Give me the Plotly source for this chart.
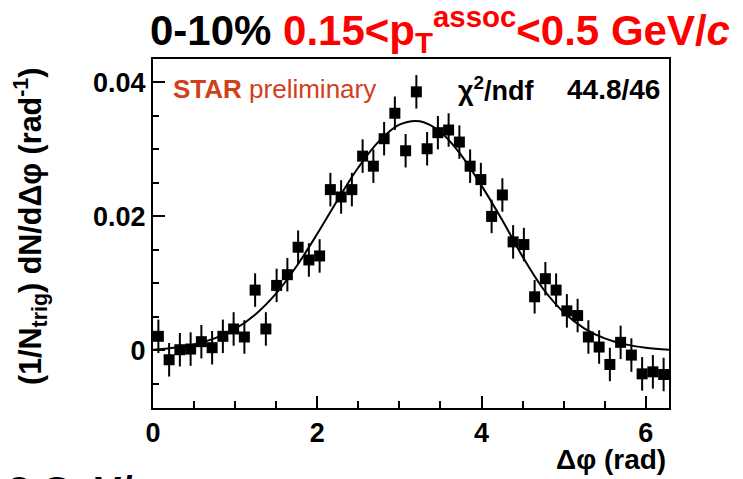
import plotly.graph_objects as go

# ---------------- data ----------------
dphi = [0.0654, 0.1963, 0.3272, 0.4581, 0.5890, 0.7199, 0.8508, 0.9817, 1.1126, 1.2435,
        1.3744, 1.5053, 1.6362, 1.7671, 1.8980, 2.0289, 2.1598, 2.2907, 2.4216, 2.5525,
        2.6834, 2.8143, 2.9452, 3.0761, 3.2070, 3.3379, 3.4688, 3.5997, 3.7306, 3.8615,
        3.9924, 4.1233, 4.2542, 4.3851, 4.5160, 4.6469, 4.7778, 4.9087, 5.0396, 5.1705,
        5.3014, 5.4323, 5.5632, 5.6941, 5.8250, 5.9559, 6.0868, 6.2177]

yield_vals = [0.0021, -0.0014, 0.0001, 0.0002, 0.0013, 0.0004, 0.0021, 0.0032, 0.0020, 0.0090,
              0.0032, 0.0097, 0.0113, 0.0154, 0.0135, 0.0141, 0.0240, 0.0229, 0.0240, 0.0290,
              0.0275, 0.0316, 0.0354, 0.0298, 0.0386, 0.0301, 0.0325, 0.0329, 0.0311, 0.0275,
              0.0255, 0.0200, 0.0232, 0.0162, 0.0158, 0.0080, 0.0107, 0.0090, 0.0059, 0.0052,
              0.0020, 0.0005, -0.0021, 0.0012, -0.0007, -0.0035, -0.0032, -0.0036]

yield_err = [0.0025, 0.0025, 0.0025, 0.0025, 0.0025, 0.0025, 0.0025, 0.0025, 0.0025, 0.0025,
             0.0025, 0.0025, 0.0025, 0.0025, 0.0025, 0.0025, 0.0025, 0.0025, 0.0025, 0.0025,
             0.0025, 0.0025, 0.0025, 0.0025, 0.0025, 0.0025, 0.0025, 0.0025, 0.0025, 0.0025,
             0.0025, 0.0025, 0.0025, 0.0025, 0.0025, 0.0025, 0.0025, 0.0025, 0.0025, 0.0025,
             0.0025, 0.0025, 0.0025, 0.0025, 0.0025, 0.0025, 0.0025, 0.0025]

fit_x = [0.0, 0.25, 0.5, 0.75, 1.0, 1.25, 1.5, 1.75, 2.0, 2.25, 2.5, 2.75, 3.0, 3.25,
         3.5, 3.75, 4.0, 4.25, 4.5, 4.75, 5.0, 5.25, 5.5, 5.75, 6.0, 6.2832]
fit_y = [0.0001, 0.0004, 0.0009, 0.0018, 0.0032, 0.0054, 0.0085, 0.0126, 0.0174, 0.0225,
         0.0273, 0.0312, 0.0337, 0.0342, 0.0326, 0.0292, 0.0246, 0.0195, 0.0140, 0.0092,
         0.0057, 0.0033, 0.0018, 0.0009, 0.0004, 0.0001]

x_tickvals = [0, 2, 4, 6]
x_ticktext = ["0", "2", "4", "6"]
y_tickvals = [0, 0.02, 0.04]
y_ticktext = ["0", "0.02", "0.04"]

# ---------------- layout geometry (page pixels; page body has an 8px margin) ----------------
PAGE_W, PAGE_H = 743, 479
OFF = 8
W, H = PAGE_W - OFF, PAGE_H - OFF
# plot frame in page coordinates
FX0, FX1, FY0, FY1 = 153, 669, 59, 408
L, T = FX0 - OFF, FY0 - OFF
R, B = W - (FX1 - OFF), H - (FY1 - OFF)
PW, PH = W - L - R, H - T - B


def px(xp):
    return (xp - FX0) / PW


def py(yp):
    return (FY1 - yp) / PH


FONT = "Liberation Sans, Arial, Helvetica, sans-serif"

fig = go.Figure()

fig.add_trace(go.Scatter(
    x=fit_x, y=fit_y, mode="lines", line=dict(color="black", width=2, shape="spline"),
    hoverinfo="skip", showlegend=False))

fig.add_trace(go.Scatter(
    x=dphi, y=yield_vals, mode="markers",
    marker=dict(symbol="square", size=11, color="black"),
    error_y=dict(type="data", array=yield_err, color="black", thickness=2, width=0),
    showlegend=False))

fig.update_layout(
    width=W, height=H,
    margin=dict(l=L, r=R, t=T, b=B, autoexpand=False),
    paper_bgcolor="white", plot_bgcolor="white",
    font=dict(family=FONT, color="black"),
    xaxis=dict(range=[0, 6.2832], showgrid=False, zeroline=False, automargin=False,
               showline=True, linecolor="black", linewidth=2, mirror=True,
               ticks="inside", ticklen=12, tickwidth=1.5, tickcolor="black",
               tickvals=x_tickvals, ticktext=x_ticktext,
               tickfont=dict(family=FONT, size=27, color="black", weight="bold"),
               minor=dict(dtick=0.5, tick0=0, ticks="inside", ticklen=7,
                          tickwidth=1.5, tickcolor="black")),
    yaxis=dict(range=[-0.0086, 0.0435], showgrid=False, zeroline=False, automargin=False,
               showline=True, linecolor="black", linewidth=2, mirror=True,
               ticks="inside", ticklen=12, tickwidth=1.5, tickcolor="black",
               tickvals=y_tickvals, ticktext=y_ticktext,
               tickfont=dict(family=FONT, size=27, color="black", weight="bold"),
               minor=dict(dtick=0.005, tick0=0, ticks="inside", ticklen=6,
                          tickwidth=1.5, tickcolor="black")),
)

annotations = [
    # title
    dict(x=px(148), y=py(30), xanchor="left", yanchor="middle",
         text="<b>0-10% <span style='color:#ff0000'>0.15&lt;p<sub>T</sub><sup>assoc</sup>&lt;0.5 GeV/<i>c</i></span></b>",
         font=dict(family=FONT, size=42, color="black")),
    # STAR preliminary
    dict(x=px(171), y=py(89), xanchor="left", yanchor="middle",
         text="<b>STAR</b> preliminary",
         font=dict(family=FONT, size=26, color="#d0401a")),
    # chi2
    dict(x=px(456), y=py(89), xanchor="left", yanchor="middle",
         text="<b>χ<sup>2</sup>/ndf</b>",
         font=dict(family=FONT, size=27, color="black")),
    dict(x=px(662), y=py(89), xanchor="right", yanchor="middle",
         text="<b>44.8/46</b>",
         font=dict(family=FONT, size=28, color="black")),
    # x title
    dict(x=px(668), y=py(459), xanchor="right", yanchor="middle",
         text="<b>Δφ (rad)</b>",
         font=dict(family=FONT, size=28, color="black")),
    # y title
    dict(x=px(30), y=py(227), xanchor="center", yanchor="middle", textangle=-90,
         text="<b>(1/N<sub>trig</sub>) dN/dΔφ (rad<sup>-1</sup>)</b>",
         font=dict(family=FONT, size=30.5, color="black")),
    # clipped text at bottom-left
    dict(x=px(6), y=py(467), xanchor="left", yanchor="top",
         text="<b>3 GeV/<i>c</i></b>",
         font=dict(family=FONT, size=40, color="black")),
]
for a in annotations:
    a.update(xref="paper", yref="paper", showarrow=False)
fig.update_layout(annotations=annotations)

fig.write_html("out.html")
